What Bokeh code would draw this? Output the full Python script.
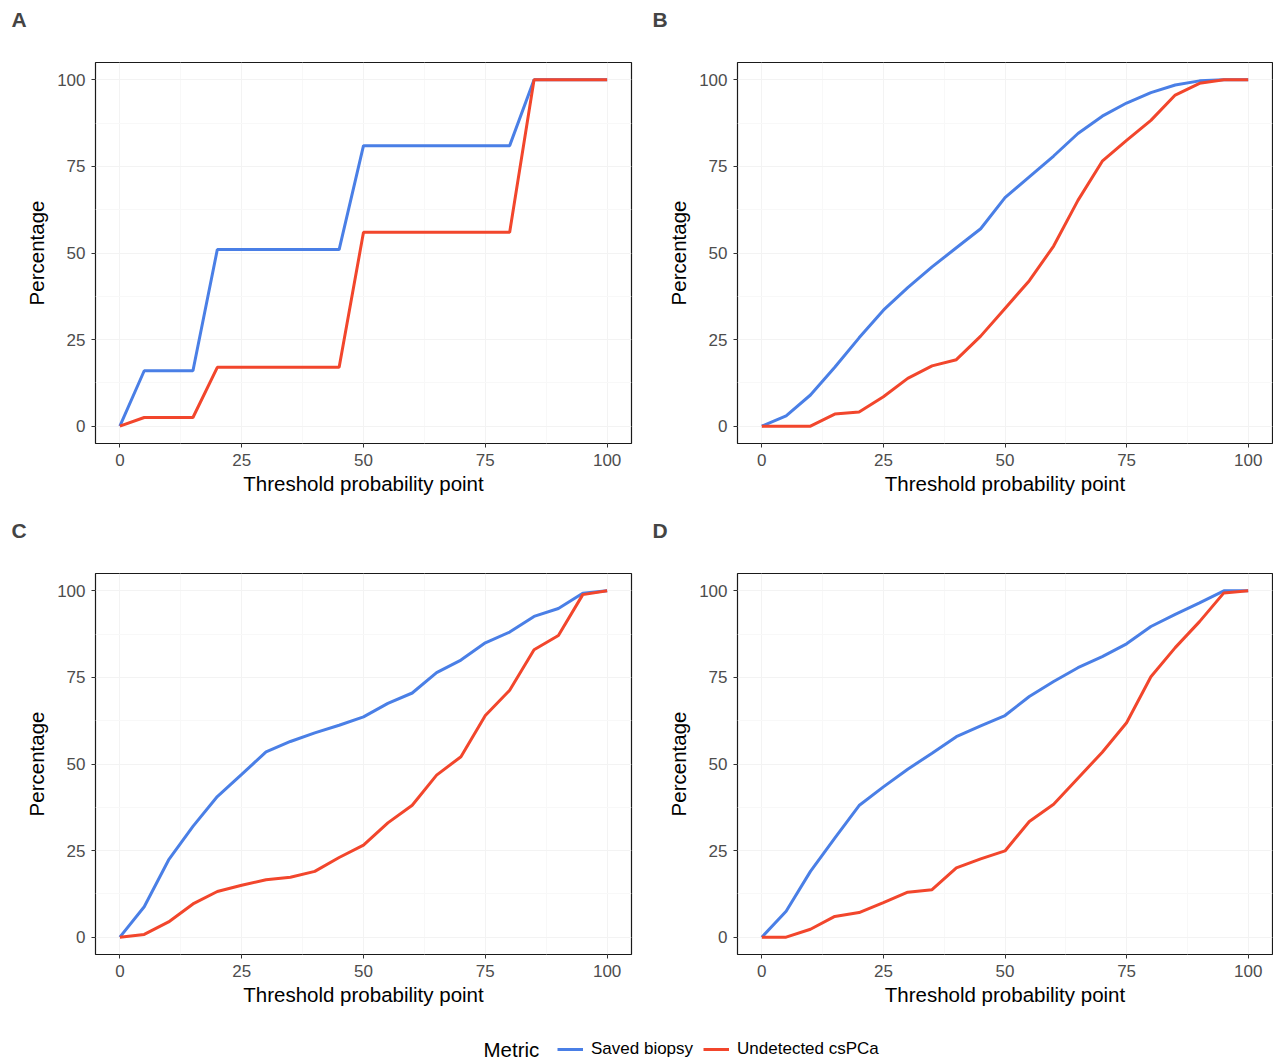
from bokeh.plotting import figure
from bokeh.models import Legend, LegendItem, Label, Range1d, FixedTicker, Title
from bokeh.layouts import column, row
from bokeh.embed import file_html
from bokeh.resources import INLINE

threshold = [0, 5, 10, 15, 20, 25, 30, 35, 40, 45, 50, 55, 60, 65, 70, 75, 80, 85, 90, 95, 100]

a_saved = [0, 16, 16, 16, 51, 51, 51, 51, 51, 51, 81, 81, 81, 81, 81, 81, 81, 100, 100, 100, 100]
a_undet = [0, 2.5, 2.5, 2.5, 17, 17, 17, 17, 17, 17, 56, 56, 56, 56, 56, 56, 56, 100, 100, 100, 100]

b_saved = [0, 3, 9, 17, 25.5, 33.5, 40, 46, 51.5, 57, 66, 72, 78, 84.5, 89.5, 93.3, 96.3, 98.5, 99.7, 100, 100]
b_undet = [0, 0, 0, 3.5, 4.1, 8.5, 13.8, 17.4, 19.2, 26, 34, 42, 52, 65.2, 76.5, 82.5, 88.3, 95.6, 99, 100, 100]

c_saved = [0, 8.8, 22.3, 32, 40.6, 47, 53.5, 56.5, 59, 61.2, 63.6, 67.5, 70.5, 76.4, 80, 85, 88.1, 92.6, 94.9, 99.3, 100]
c_undet = [0, 0.8, 4.4, 9.6, 13.2, 15, 16.6, 17.3, 19, 23, 26.6, 33, 38.1, 46.8, 52.1, 64, 71.3, 83, 87.1, 98.9, 100]

d_saved = [0, 7.5, 19, 28.6, 38, 43.4, 48.5, 53.1, 57.9, 61, 64, 69.5, 73.8, 77.8, 81, 84.7, 89.7, 93.2, 96.5, 100, 100]
d_undet = [0, 0, 2.3, 6, 7.1, 10, 13, 13.7, 20, 22.6, 24.9, 33.4, 38.4, 45.9, 53.4, 61.9, 75.2, 83.6, 91.1, 99.4, 100]

panel_letters = ["A", "B", "C", "D"]
series_names = ["Saved biopsy", "Undetected csPCa"]
legend_title = "Metric"
x_label = "Threshold probability point"
y_label = "Percentage"
ticks = [0, 25, 50, 75, 100]

BLUE = "#4a7fe6"
RED = "#f2462c"
FONT = "Liberation Sans"

FRAME_H = 381
TOP = 62


def make_panel(letter, saved, undet, left_border, frame_w, right_border, bottom):
    p = figure(
        width=left_border + frame_w + right_border,
        height=TOP + FRAME_H + bottom,
        x_range=Range1d(-5, 105),
        y_range=Range1d(-5, 105),
        output_backend="svg",
        toolbar_location=None,
        min_border_left=left_border,
        min_border_right=right_border,
        min_border_top=TOP,
        min_border_bottom=bottom,
        title=None,
    )
    # spacer (closest to frame), then the panel letter further out
    spacer = Title(text=" ", text_font_size="1px", standoff=29)
    p.add_layout(spacer, "above")
    lt = Title(text=letter, text_font=FONT, text_font_style="bold",
               text_font_size="21px", align="left",
               offset=-(left_border - 11), standoff=0)
    p.add_layout(lt, "above")

    p.background_fill_color = "white"
    p.border_fill_color = "white"
    p.outline_line_color = "#1a1a1a"
    p.outline_line_width = 1.2

    for ax in (p.xaxis, p.yaxis):
        ax.ticker = FixedTicker(ticks=ticks, minor_ticks=[12.5, 37.5, 62.5, 87.5])
        ax.axis_line_color = None
        ax.major_tick_line_color = "#333333"
        ax.major_tick_out = 4
        ax.major_tick_in = 0
        ax.minor_tick_line_color = None
        ax.major_label_text_font = FONT
        ax.major_label_text_font_size = "17px"
        ax.major_label_text_color = "#4d4d4d"
        ax.axis_label_text_font = FONT
        ax.axis_label_text_font_size = "20.5px"
        ax.axis_label_text_font_style = "normal"
        ax.axis_label_text_color = "black"
    p.xaxis.axis_label = x_label
    p.yaxis.axis_label = y_label
    p.xaxis.major_label_standoff = 6
    p.xaxis.axis_label_standoff = 3
    p.yaxis.major_label_standoff = 6
    p.yaxis.axis_label_standoff = 6

    p.xgrid.grid_line_color = "#f3f3f3"
    p.ygrid.grid_line_color = "#f3f3f3"
    p.xgrid.minor_grid_line_color = "#f8f8f8"
    p.ygrid.minor_grid_line_color = "#f8f8f8"

    p.line(threshold, saved, line_color=BLUE, line_width=3)
    p.line(threshold, undet, line_color=RED, line_width=3)
    return p


pA = make_panel(panel_letters[0], a_saved, a_undet, 95, 536, 10, 68)
pB = make_panel(panel_letters[1], b_saved, b_undet, 96, 535, 1, 68)
pC = make_panel(panel_letters[2], c_saved, c_undet, 95, 536, 10, 60)
pD = make_panel(panel_letters[3], d_saved, d_undet, 96, 535, 1, 60)

# legend strip
TOTAL_W = pA.width + pB.width
LH = 47
pl = figure(
    width=TOTAL_W, height=LH,
    x_range=Range1d(0, TOTAL_W), y_range=Range1d(0, LH),
    output_backend="svg", toolbar_location=None,
    min_border=0,
)
pl.axis.visible = False
pl.grid.visible = False
pl.outline_line_color = None
pl.border_fill_color = "white"
r1 = pl.line([0, 1], [-10, -10], line_color=BLUE, line_width=3)
r2 = pl.line([0, 1], [-10, -10], line_color=RED, line_width=3)
leg = Legend(
    items=[LegendItem(label=series_names[0], renderers=[r1]),
           LegendItem(label=series_names[1], renderers=[r2])],
    orientation="horizontal",
    location=(557, 2),
    padding=0, margin=0, spacing=10,
    glyph_width=26, glyph_height=18, label_standoff=8,
    label_text_font=FONT, label_text_font_size="17px",
    label_text_color="black",
    border_line_color=None, background_fill_alpha=0,
)
pl.add_layout(leg, "center")
pl.add_layout(Label(x=483, y=12, text=legend_title, text_font=FONT,
                    text_font_size="20.5px", text_color="black",
                    text_baseline="middle"))

layout = column(row(pA, pB), row(pC, pD), pl)

open("out.html", "w").write(file_html(layout, INLINE))
